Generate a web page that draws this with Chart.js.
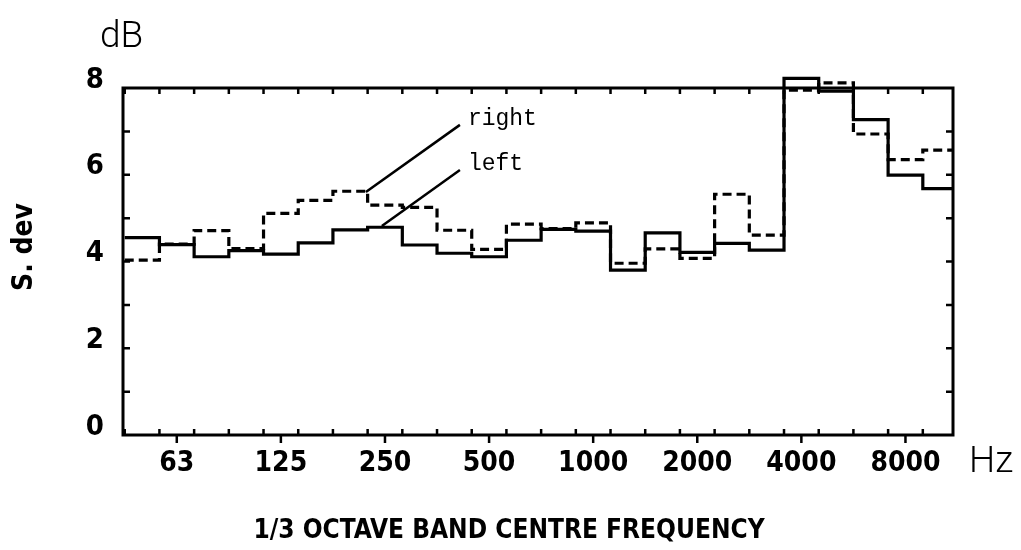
<!DOCTYPE html>
<html><head><meta charset="utf-8">
<script src="https://cdn.jsdelivr.net/npm/chart.js@4.4.0/dist/chart.umd.min.js"></script>
<style>html,body{margin:0;padding:0;background:#fff;}#wrap{width:1021px;height:550px;position:relative;}</style>
</head><body><div id="wrap"><canvas id="c" width="1021" height="550"></canvas></div>
<script>
// 1/3 octave bands (Hz)
const bands = ['50','63','80','100','125','160','200','250','315','400','500','630','800','1000','1250','1600','2000','2500','3150','4000','5000','6300','8000','10000'];
// standard deviation, dB
const leftDev  = [4.55,4.39,4.11,4.25,4.17,4.43,4.73,4.79,4.38,4.19,4.11,4.49,4.74,4.70,3.80,4.66,4.21,4.42,4.26,8.22,7.93,7.27,5.99,5.68];
const rightDev = [4.03,4.40,4.71,4.30,5.11,5.41,5.62,5.30,5.25,4.72,4.28,4.86,4.76,4.89,3.96,4.29,4.07,5.55,4.61,7.95,8.12,6.94,6.35,6.57];
const xTickLabels = ['63','125','250','500','1000','2000','4000','8000'];
const yTickLabels = ['0','2','4','6','8'];
const xTitle = '1/3 OCTAVE BAND CENTRE FREQUENCY';
const yTitle = 'S. dev';
// annotation anchors in data units [bandIndex, dB]
const rightNote = {text:'right', label:[9.39,7.15], from:[9.16,7.15], to:[6.45,5.60]};
const leftNote  = {text:'left',  label:[9.39,6.11], from:[9.16,6.11], to:[6.91,4.82]};

const xTickIdx = xTickLabels.map(l => bands.indexOf(l));
function stepData(vals){
  const pts = vals.map((v,i)=>({x:i-0.5,y:v}));
  pts.push({x:vals.length-0.5,y:vals[vals.length-1]});
  return pts;
}
const NARROW = '"Liberation Sans Narrow","DejaVu Sans Condensed","Roboto Condensed",sans-serif';

const framePlugin = {
  id:'frame',
  beforeDatasetsDraw(chart){
    const {ctx, chartArea:a, scales:{x,y}} = chart;
    ctx.save();
    ctx.strokeStyle='#000'; ctx.lineWidth=3;
    ctx.strokeRect(a.left,a.top,a.right-a.left,a.bottom-a.top);
    ctx.lineWidth=2.5;
    ctx.beginPath();
    for(let i=0;i<=bands.length;i++){
      const v=i-0.5; if(v<=x.min||v>=x.max) continue;
      const px=x.getPixelForValue(v);
      ctx.moveTo(px,a.bottom); ctx.lineTo(px,a.bottom-6);
      ctx.moveTo(px,a.top); ctx.lineTo(px,a.top+6);
    }
    xTickIdx.forEach(v=>{const px=x.getPixelForValue(v); ctx.moveTo(px,a.bottom); ctx.lineTo(px,a.bottom+8);});
    for(let v=1;v<8;v++){
      const py=y.getPixelForValue(v);
      ctx.moveTo(a.left,py); ctx.lineTo(a.left+7,py);
      ctx.moveTo(a.right,py); ctx.lineTo(a.right-7,py);
    }
    ctx.stroke();
    ctx.restore();
  },
  afterDatasetsDraw(chart){
    const {ctx, scales:{x,y}} = chart;
    const P = p => [x.getPixelForValue(p[0]), y.getPixelForValue(p[1])];
    ctx.save();
    ctx.fillStyle='#000'; ctx.strokeStyle='#000';
    ctx.lineWidth=2.5;
    [rightNote,leftNote].forEach(n=>{
      const f=P(n.from), t=P(n.to), l=P(n.label);
      ctx.beginPath(); ctx.moveTo(f[0],f[1]); ctx.lineTo(t[0],t[1]); ctx.stroke();
      ctx.font='23px "Liberation Mono","DejaVu Sans Mono",monospace';
      ctx.textAlign='left'; ctx.textBaseline='alphabetic';
      ctx.fillText(n.text,l[0],l[1]);
    });
    ctx.font='300 37px Roboto, sans-serif';
    ctx.textAlign='left'; ctx.textBaseline='alphabetic';
    ctx.fillText('dB',100,47);
    ctx.fillText('Hz',969,472);
    ctx.font='bold 26px '+NARROW;
    ctx.textAlign='center';
    ctx.fillText(xTitle,509,538);
    ctx.translate(25,247); ctx.rotate(-Math.PI/2);
    ctx.font='bold 28px '+NARROW;
    ctx.textAlign='center'; ctx.textBaseline='middle';
    ctx.fillText(yTitle,0,0);
    ctx.restore();
  }
};

new Chart(document.getElementById('c'),{
  type:'line',
  data:{datasets:[
    {label:'right',data:stepData(rightDev),stepped:'before',borderColor:'#000',borderWidth:3.2,borderDash:[9,5],pointRadius:0,fill:false,clip:{left:0,top:16,right:0,bottom:0}},
    {label:'left',data:stepData(leftDev),stepped:'before',borderColor:'#000',borderWidth:3.2,pointRadius:0,fill:false,clip:{left:0,top:16,right:0,bottom:0}}
  ]},
  options:{
    responsive:false, animation:false, devicePixelRatio:1,
    layout:{padding:{left:0,right:68,top:88,bottom:0}},
    plugins:{legend:{display:false},tooltip:{enabled:false}},
    scales:{
      x:{type:'linear',min:-0.55,max:23.37,
        afterBuildTicks:s=>{s.ticks=xTickIdx.map(v=>({value:v}));},
        afterFit:s=>{s.height=115;},
        grid:{display:false,drawTicks:false},border:{display:false},
        ticks:{autoSkip:false,maxRotation:0,padding:12,color:'#000',font:{family:NARROW,size:28,weight:'bold'},
          callback:v=>{const i=xTickIdx.indexOf(v);return i>=0?xTickLabels[i]:'';}}
      },
      y:{min:0,max:8,
        afterBuildTicks:s=>{s.ticks=yTickLabels.map(t=>({value:Number(t)}));},
        afterFit:s=>{s.width=123;},
        grid:{display:false,drawTicks:false},border:{display:false},
        ticks:{padding:19,labelOffset:-8,color:'#000',font:{family:NARROW,size:29,weight:'bold'},
          callback:v=>{const i=yTickLabels.indexOf(String(v));return i>=0?yTickLabels[i]:'';}}
      }
    }
  },
  plugins:[framePlugin]
});
</script></body></html>
